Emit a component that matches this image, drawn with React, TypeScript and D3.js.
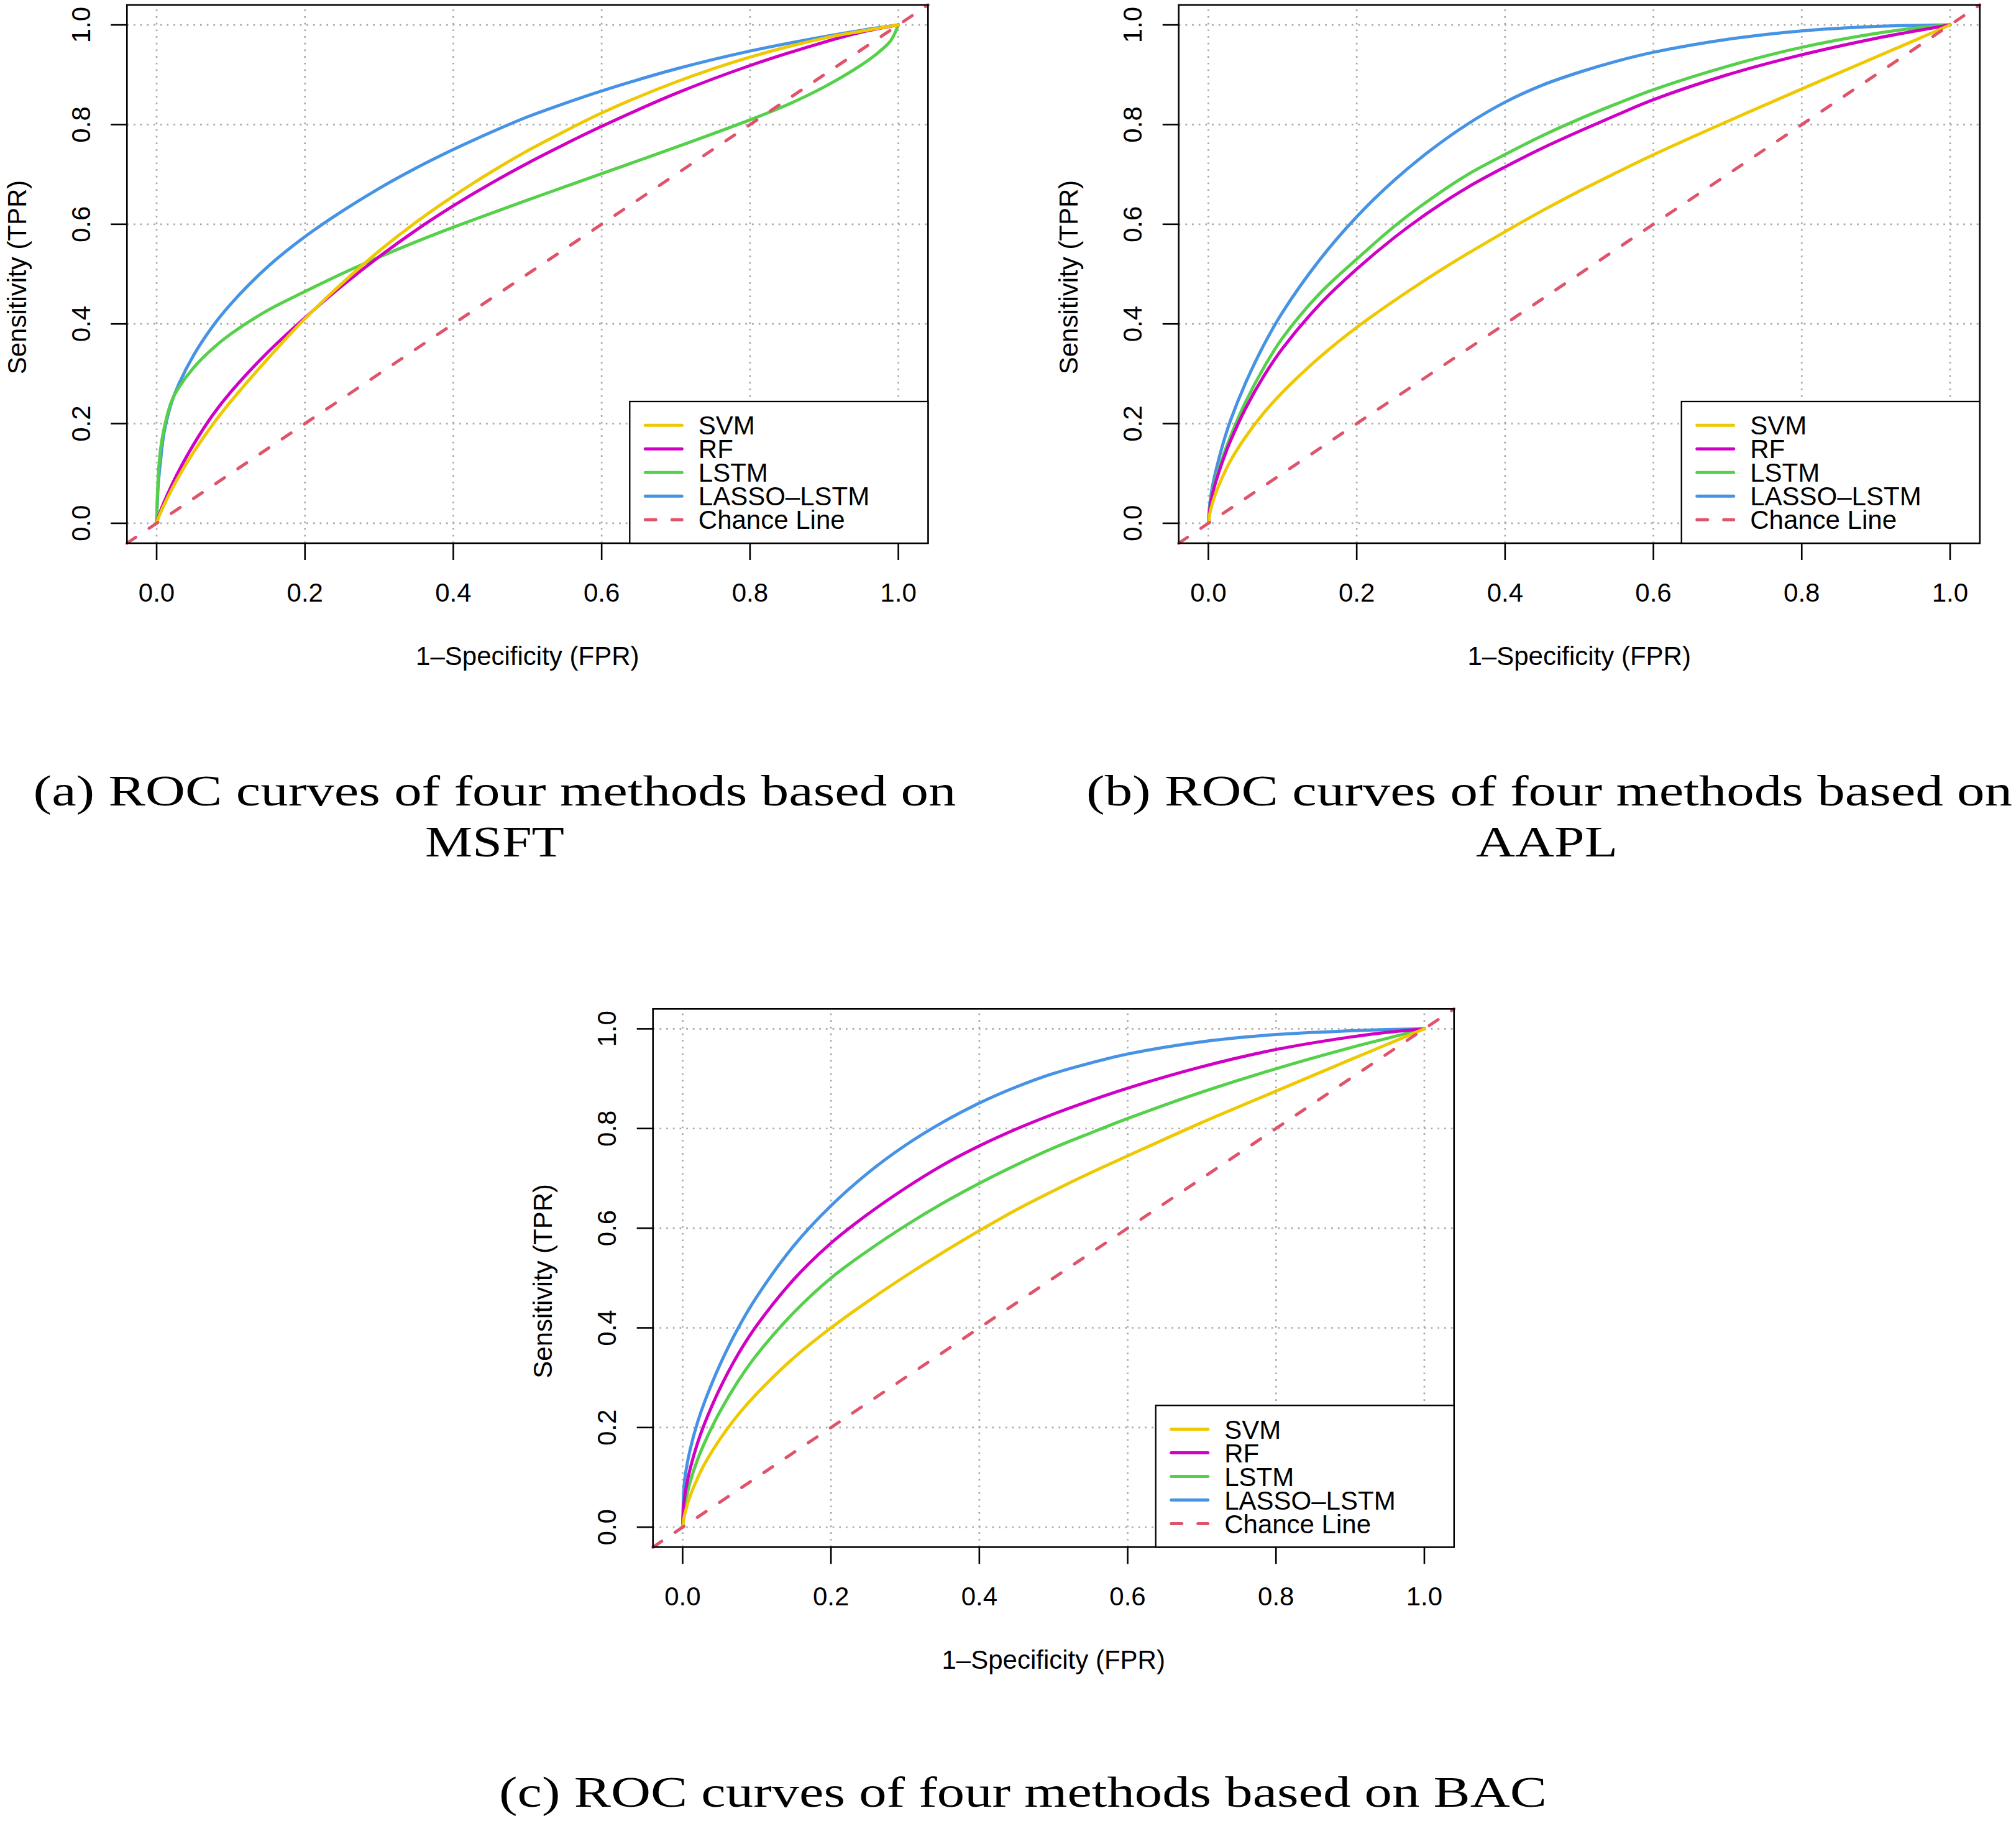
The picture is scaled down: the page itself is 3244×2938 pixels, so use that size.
import React from 'react';
import * as d3 from 'd3';

const TICKS = [0, 0.2, 0.4, 0.6, 0.8, 1.0];
const TICK_LABELS = ['0.0', '0.2', '0.4', '0.6', '0.8', '1.0'];
const LEGEND_LABELS = ['SVM', 'RF', 'LSTM', 'LASSO\u2013LSTM', 'Chance Line'];
const COLORS = ['#EEC800', '#D000C4', '#55D04A', '#4693E5', '#DF536B'];
const X_TITLE = '1\u2013Specificity (FPR)';
const Y_TITLE = 'Sensitivity (TPR)';

// Panel (a) MSFT  [FPR, TPR]
const MSFT_SVM = [[0,0],[0.002,0.009],[0.005,0.0201],[0.01,0.0366],[0.02,0.0666],[0.03,0.0941],[0.05,0.1431],[0.075,0.1969],[0.1,0.2444],[0.15,0.3304],[0.2,0.4104],[0.25,0.4814],[0.3,0.5464],[0.35,0.6044],[0.4,0.6564],[0.45,0.7039],[0.5,0.7474],[0.55,0.7864],[0.6,0.8234],[0.7,0.8854],[0.8,0.9354],[0.9,0.9734],[0.95,0.9874],[1,1]];
const MSFT_RF = [[0,0],[0.002,0.011],[0.005,0.0239],[0.01,0.0424],[0.02,0.0754],[0.03,0.1054],[0.05,0.1584],[0.075,0.2159],[0.1,0.2634],[0.15,0.3434],[0.2,0.4124],[0.25,0.4764],[0.3,0.5349],[0.35,0.5884],[0.4,0.6369],[0.45,0.6814],[0.5,0.7224],[0.55,0.7604],[0.6,0.7964],[0.7,0.8624],[0.8,0.9184],[0.9,0.9654],[0.95,0.9854],[1,1]];
const MSFT_LSTM = [[0,0],[0.002,0.09],[0.005,0.145],[0.01,0.19],[0.02,0.2445],[0.03,0.2725],[0.05,0.3125],[0.075,0.35],[0.1,0.38],[0.15,0.4275],[0.2,0.465],[0.25,0.501],[0.3,0.534],[0.35,0.565],[0.4,0.594],[0.45,0.6215],[0.5,0.6485],[0.55,0.675],[0.6,0.7015],[0.7,0.7545],[0.8,0.8095],[0.85,0.8395],[0.9,0.8755],[0.95,0.9195],[0.975,0.947],[0.99,0.969],[1,1]];
const MSFT_LASSO = [[0,0],[0.002,0.0735],[0.005,0.1215],[0.01,0.1815],[0.02,0.2415],[0.03,0.2795],[0.05,0.3375],[0.075,0.394],[0.1,0.44],[0.15,0.515],[0.2,0.575],[0.25,0.626],[0.3,0.672],[0.35,0.713],[0.4,0.75],[0.45,0.784],[0.5,0.8155],[0.55,0.8425],[0.6,0.8675],[0.7,0.9115],[0.8,0.9475],[0.9,0.9765],[0.95,0.989],[1,1]];

// Panel (b) AAPL
const AAPL_SVM = [[0,0],[0.002,0.02],[0.005,0.038],[0.01,0.061],[0.02,0.096],[0.03,0.126],[0.05,0.173],[0.075,0.222],[0.1,0.263],[0.15,0.333],[0.2,0.393],[0.25,0.446],[0.3,0.4955],[0.35,0.5415],[0.4,0.585],[0.45,0.627],[0.5,0.6665],[0.55,0.7035],[0.6,0.7395],[0.7,0.8065],[0.8,0.8715],[0.9,0.9355],[0.95,0.9675],[1,1]];
const AAPL_RF = [[0,0],[0.002,0.03],[0.005,0.055],[0.01,0.083],[0.02,0.128],[0.03,0.166],[0.05,0.23],[0.075,0.296],[0.1,0.351],[0.15,0.439],[0.2,0.51],[0.25,0.5725],[0.3,0.627],[0.35,0.6745],[0.4,0.715],[0.45,0.7525],[0.5,0.7865],[0.55,0.819],[0.6,0.85],[0.7,0.9],[0.8,0.94],[0.9,0.973],[0.95,0.987],[1,1]];
const AAPL_LSTM = [[0,0],[0.002,0.032],[0.005,0.058],[0.01,0.088],[0.02,0.135],[0.03,0.175],[0.05,0.243],[0.075,0.313],[0.1,0.372],[0.15,0.461],[0.2,0.53],[0.25,0.595],[0.3,0.651],[0.35,0.7],[0.4,0.74],[0.45,0.7775],[0.5,0.811],[0.55,0.8415],[0.6,0.87],[0.7,0.917],[0.8,0.955],[0.9,0.983],[0.95,0.993],[1,1]];
const AAPL_LASSO = [[0,0],[0.002,0.04],[0.005,0.07],[0.01,0.105],[0.02,0.161],[0.03,0.207],[0.05,0.281],[0.075,0.3585],[0.1,0.4235],[0.15,0.5285],[0.2,0.615],[0.25,0.6875],[0.3,0.749],[0.35,0.8015],[0.4,0.845],[0.45,0.879],[0.5,0.905],[0.55,0.927],[0.6,0.945],[0.7,0.971],[0.8,0.988],[0.9,0.997],[0.95,0.999],[1,1]];

// Panel (c) BAC
const BAC_SVM = [[0,0],[0.002,0.02],[0.005,0.038],[0.01,0.062],[0.02,0.098],[0.03,0.128],[0.05,0.176],[0.075,0.226],[0.1,0.268],[0.15,0.34],[0.2,0.4],[0.25,0.4535],[0.3,0.5035],[0.35,0.5505],[0.4,0.595],[0.45,0.637],[0.5,0.675],[0.55,0.711],[0.6,0.745],[0.7,0.812],[0.8,0.875],[0.9,0.938],[0.95,0.969],[1,1]];
const BAC_RF = [[0,0],[0.002,0.0515],[0.005,0.0815],[0.01,0.1165],[0.02,0.1685],[0.03,0.2095],[0.05,0.2775],[0.075,0.3475],[0.1,0.405],[0.15,0.4975],[0.2,0.57],[0.25,0.6285],[0.3,0.68],[0.35,0.726],[0.4,0.765],[0.45,0.799],[0.5,0.829],[0.55,0.856],[0.6,0.881],[0.7,0.924],[0.8,0.9585],[0.9,0.9835],[0.95,0.993],[1,1]];
const BAC_LSTM = [[0,0],[0.002,0.0345],[0.005,0.06],[0.01,0.09],[0.02,0.135],[0.03,0.171],[0.05,0.231],[0.075,0.2935],[0.1,0.346],[0.15,0.431],[0.2,0.5],[0.25,0.555],[0.3,0.6045],[0.35,0.6495],[0.4,0.69],[0.45,0.727],[0.5,0.761],[0.55,0.791],[0.6,0.82],[0.7,0.873],[0.8,0.92],[0.9,0.962],[0.95,0.981],[1,1]];
const BAC_LASSO = [[0,0],[0.002,0.0845],[0.005,0.1175],[0.01,0.155],[0.02,0.21],[0.03,0.253],[0.05,0.325],[0.075,0.4],[0.1,0.4625],[0.15,0.565],[0.2,0.645],[0.25,0.711],[0.3,0.766],[0.35,0.812],[0.4,0.851],[0.45,0.8835],[0.5,0.9105],[0.55,0.9315],[0.6,0.9495],[0.7,0.974],[0.8,0.9885],[0.9,0.996],[0.95,0.9985],[1,1]];

const CAPTION_A = ['(a) ROC curves of four methods based on', 'MSFT'];
const CAPTION_B = ['(b) ROC curves of four methods based on', 'AAPL'];
const CAPTION_C = ['(c) ROC curves of four methods based on BAC'];

const SANS = '"Liberation Sans", Arial, Helvetica, sans-serif';
const SERIF = '"Liberation Serif", "DejaVu Serif", serif';

const BOX_W = 1289;
const BOX_H = 866;

type Series = number[][];

function Panel({ left, top, series }: { left: number; top: number; series: Series[] }) {
  const x = d3.scaleLinear().domain([-0.04, 1.04]).range([left, left + BOX_W]);
  const y = d3.scaleLinear().domain([-0.04, 1.04]).range([top + BOX_H, top]);
  const line = d3
    .line<number[]>()
    .x((d) => x(d[0]))
    .y((d) => y(d[1]))
    .curve(d3.curveCatmullRom.alpha(0.5));
  const right = left + BOX_W;
  const bottom = top + BOX_H;
  const drawOrder = [3, 2, 1, 0];
  const legW = 480;
  const legH = 228;
  const legL = right - legW;
  const legT = bottom - legH;
  return (
    <g>
      {TICKS.map((t) => (
        <line key={'gv' + t} x1={x(t)} x2={x(t)} y1={bottom} y2={top} stroke="#a8a8a8" strokeWidth={2.7} strokeDasharray="2.7 8" />
      ))}
      {TICKS.map((t) => (
        <line key={'gh' + t} x1={left} x2={right} y1={y(t)} y2={y(t)} stroke="#a8a8a8" strokeWidth={2.7} strokeDasharray="2.7 8" />
      ))}
      {drawOrder.map((i) => (
        <path key={'c' + i} d={line(series[i]) || ''} fill="none" stroke={COLORS[i]} strokeWidth={5} strokeLinecap="round" strokeLinejoin="round" />
      ))}
      <line x1={x(-0.04)} y1={y(-0.04)} x2={x(1.04)} y2={y(1.04)} stroke={COLORS[4]} strokeWidth={5} strokeDasharray="17 26" strokeLinecap="round" />
      <rect x={left} y={top} width={BOX_W} height={BOX_H} fill="none" stroke="#000" strokeWidth={2.6} />
      {TICKS.map((t, i) => (
        <g key={'xt' + t}>
          <line x1={x(t)} x2={x(t)} y1={bottom} y2={bottom + 27} stroke="#000" strokeWidth={2.6} />
          <text x={x(t)} y={bottom + 94} textAnchor="middle" fontFamily={SANS} fontSize={42}>{TICK_LABELS[i]}</text>
        </g>
      ))}
      {TICKS.map((t, i) => (
        <g key={'yt' + t}>
          <line x1={left - 26} x2={left} y1={y(t)} y2={y(t)} stroke="#000" strokeWidth={2.6} />
          <text transform={`translate(${left - 59.5},${y(t)}) rotate(-90)`} textAnchor="middle" fontFamily={SANS} fontSize={42}>{TICK_LABELS[i]}</text>
        </g>
      ))}
      <text x={(left + right) / 2} y={bottom + 196} textAnchor="middle" fontFamily={SANS} fontSize={42}>{X_TITLE}</text>
      <text transform={`translate(${left - 162.5},${(top + bottom) / 2 + 5}) rotate(-90)`} textAnchor="middle" fontFamily={SANS} fontSize={42}>{Y_TITLE}</text>
      <rect x={legL} y={legT} width={legW} height={legH} fill="#fff" stroke="#000" strokeWidth={2.3} />
      {LEGEND_LABELS.map((lab, i) => {
        const ly = legT + 38.3 + i * 38;
        return (
          <g key={'lg' + i}>
            <line x1={legL + 25} x2={legL + 84} y1={ly} y2={ly} stroke={COLORS[i]} strokeWidth={5} strokeLinecap="round" strokeDasharray={i === 4 ? '17 26' : undefined} />
            <text x={legL + 110.5} y={ly + 15} fontFamily={SANS} fontSize={42}>{lab}</text>
          </g>
        );
      })}
    </g>
  );
}

export default function App() {
  return (
    <svg width={3244} height={2938} viewBox="0 0 3244 2938" style={{ position: 'absolute', left: 0, top: 0, display: 'block', background: '#fff' }}>
      <rect x={0} y={0} width={3244} height={2938} fill="#fff" />
      <Panel left={204.3} top={8} series={[MSFT_SVM, MSFT_RF, MSFT_LSTM, MSFT_LASSO]} />
      <Panel left={1896.7} top={8} series={[AAPL_SVM, AAPL_RF, AAPL_LSTM, AAPL_LASSO]} />
      <Panel left={1050.7} top={1623.3} series={[BAC_SVM, BAC_RF, BAC_LSTM, BAC_LASSO]} />
      <text x={796} y={1296} textAnchor="middle" fontFamily={SERIF} fontSize={69} textLength={1485} lengthAdjust="spacingAndGlyphs">{CAPTION_A[0]}</text>
      <text x={796} y={1378} textAnchor="middle" fontFamily={SERIF} fontSize={69} textLength={224} lengthAdjust="spacingAndGlyphs">{CAPTION_A[1]}</text>
      <text x={2493} y={1296} textAnchor="middle" fontFamily={SERIF} fontSize={69} textLength={1490} lengthAdjust="spacingAndGlyphs">{CAPTION_B[0]}</text>
      <text x={2489} y={1378} textAnchor="middle" fontFamily={SERIF} fontSize={69} textLength={228} lengthAdjust="spacingAndGlyphs">{CAPTION_B[1]}</text>
      <text x={1646} y={2907} textAnchor="middle" fontFamily={SERIF} fontSize={69} textLength={1686} lengthAdjust="spacingAndGlyphs">{CAPTION_C[0]}</text>
    </svg>
  );
}
